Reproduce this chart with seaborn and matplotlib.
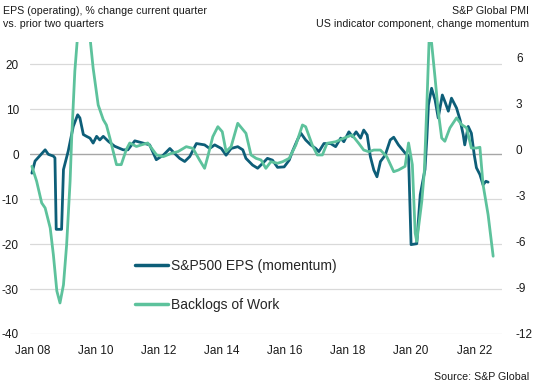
import matplotlib
matplotlib.use("Agg")
import matplotlib.pyplot as plt
import seaborn as sns
import pandas as pd
from matplotlib.lines import Line2D

# ---- data (dates as decimal years) ----
eps_t = [2007.99, 2008.09, 2008.41, 2008.51, 2008.67, 2008.72, 2008.76, 2008.93, 2008.99, 2009.14,
         2009.30, 2009.44, 2009.51, 2009.62, 2009.72, 2009.83, 2009.93, 2010.04, 2010.14, 2010.25,
         2010.41, 2010.61, 2010.88, 2011.03, 2011.25, 2011.51, 2011.72, 2011.93, 2012.15, 2012.36,
         2012.51, 2012.67, 2012.83, 2012.99, 2013.20, 2013.46, 2013.62, 2013.78, 2013.99, 2014.14,
         2014.30, 2014.51, 2014.67, 2014.77, 2014.98, 2015.14, 2015.30, 2015.45, 2015.61, 2015.77,
         2015.98, 2016.14, 2016.24, 2016.40, 2016.51, 2016.66, 2016.82, 2016.98, 2017.08, 2017.24,
         2017.45, 2017.61, 2017.77, 2017.87, 2018.03, 2018.15, 2018.26, 2018.40, 2018.50, 2018.61,
         2018.71, 2018.82, 2018.92, 2019.03, 2019.18, 2019.34, 2019.45, 2019.60, 2019.81, 2019.92,
         2020.00, 2020.18, 2020.29, 2020.44, 2020.50, 2020.55, 2020.65, 2020.76, 2020.86, 2020.99,
         2021.09, 2021.18, 2021.28, 2021.44, 2021.55, 2021.65, 2021.70, 2021.81, 2021.91, 2022.00,
         2022.07, 2022.18, 2022.28, 2022.37, 2022.44]
eps_v = [-4.2, -1.5, 1.0, 0.0, -0.4, -0.8, -16.7, -16.7, -3.4, 0.7,
         6.2, 8.8, 8.1, 4.4, 4.0, 3.6, 2.5, 4.0, 3.2, 4.0,
         2.9, 1.8, 1.0, 1.0, 3.0, 2.5, 2.1, -1.2, -0.2, 1.3,
         0.2, -0.9, -1.6, -0.5, 2.4, 2.1, 1.3, 2.1, 1.3, -0.2,
         1.3, 1.7, 1.0, -0.9, -2.4, -3.1, -2.0, -0.9, -1.3, -2.9,
         -2.8, -1.3, 0.6, 3.2, 4.7, 3.2, 2.1, 1.3, 0.6, 2.4,
         2.4, 1.7, 3.6, 2.8, 5.0, 3.9, 5.0, 3.6, 5.4, 4.3,
         -0.5, -3.5, -5.0, -1.6, -0.2, 3.2, 3.8, 2.1, 0.3, -0.4,
         -20.1, -19.9, -9.0, -3.4, 3.6, 11.0, 14.7, 12.1, 8.1, 13.2,
         11.4, 9.6, 12.5, 10.3, 7.7, 4.4, 2.1, 6.2, 4.7, -0.1,
         -3.0, -4.5, -6.8, -6.0, -6.2]

bl_t = [2007.99, 2008.14, 2008.30, 2008.41, 2008.57, 2008.67, 2008.78, 2008.88, 2008.99, 2009.09,
        2009.20, 2009.25, 2009.35, 2009.46, 2009.55, 2009.71, 2009.83, 2009.93, 2010.09, 2010.25,
        2010.35, 2010.46, 2010.67, 2010.82, 2010.98, 2011.09, 2011.30, 2011.45, 2011.66, 2011.94,
        2012.15, 2012.41, 2012.62, 2012.88, 2013.09, 2013.30, 2013.46, 2013.56, 2013.72, 2013.88,
        2014.02, 2014.14, 2014.30, 2014.51, 2014.77, 2014.93, 2015.09, 2015.25, 2015.40, 2015.56,
        2015.77, 2015.93, 2016.14, 2016.35, 2016.56, 2016.66, 2016.87, 2017.03, 2017.19, 2017.34,
        2017.61, 2017.87, 2018.13, 2018.34, 2018.50, 2018.66, 2018.82, 2019.03, 2019.23, 2019.45,
        2019.60, 2019.81, 2019.92, 2020.04, 2020.13, 2020.18, 2020.34, 2020.42, 2020.50, 2020.57,
        2020.65, 2020.76, 2020.86, 2020.97, 2021.07, 2021.23, 2021.44, 2021.60, 2021.76, 2021.91,
        2022.07, 2022.18, 2022.28, 2022.44, 2022.60]
bl_v = [-1.09, -2.06, -3.47, -3.8, -5.1, -6.84, -9.2, -9.98, -8.8, -6.2,
        -2.06, 0.75, 5.1, 8.0, 9.0, 8.6, 7.3, 5.3, 2.9, 1.95,
        1.6, 0.75, -0.98, -0.98, 0.0, 0.43, 0.2, 0.3, 0.43, -0.35,
        -0.46, -0.24, -0.13, 0.19, 0.08, -0.68, -1.22, -0.46, 0.84, 1.49,
        1.16, -0.13, 0.19, 1.71, 1.06, -0.35, -0.57, -0.68, -1.22, -0.79,
        -0.89, -0.79, -0.57, 0.30, 1.6, 1.49, 0.30, -0.35, -0.35, 0.41,
        0.51, 0.74, 0.95, 0.41, -0.03, -0.14, -0.03, -0.03, -0.46, -1.44,
        -1.33, -1.09, 0.43, -0.98, -5.43, -5.97, -3.36, -1.41, 2.92, 7.05,
        6.94, 4.66, 2.49, 0.75, 0.54, 1.41, 2.06, 1.62, 1.41, 0.10,
        0.10, 0.15, -2.28, -4.24, -6.94]

x_ticks = [2008, 2010, 2012, 2014, 2016, 2018, 2020, 2022]
x_labels = ["Jan 08", "Jan 10", "Jan 12", "Jan 14", "Jan 16", "Jan 18", "Jan 20", "Jan 22"]
left_ticks = [-40, -30, -20, -10, 0, 10, 20]
right_ticks = [-12, -9, -6, -3, 0, 3, 6]

eps_label = "S&P500 EPS (momentum)"
bl_label = "Backlogs of Work"

DARK = "#0d5e78"
GREEN = "#5dc29c"

sns.set_theme(style="white")
plt.rcParams['font.family'] = ['Liberation Sans', 'DejaVu Sans']

fig = plt.figure(figsize=(5.36, 3.90), dpi=100)
ax = fig.add_axes([30 / 536, 1 - 334 / 390, (502 - 30) / 536, (334 - 42) / 390])
ax2 = ax.twinx()

df_eps = pd.DataFrame({"t": eps_t, "v": eps_v})
df_bl = pd.DataFrame({"t": bl_t, "v": bl_v})

for y in left_ticks:
    ax.axhline(y, color="#a6a6a6" if y == 0 else "#d9d9d9", lw=1.0 if y == 0 else 0.9, zorder=0)

sns.lineplot(data=df_eps, x="t", y="v", ax=ax, color=DARK, lw=2.0, legend=False)
sns.lineplot(data=df_bl, x="t", y="v", ax=ax2, color=GREEN, lw=2.0, legend=False)

ax.set_xlim(2007.93, 2022.88)
ax.set_ylim(-40, 25)
ax2.set_ylim(-12, 7)
ax.set_xticks(x_ticks)
ax.set_xticklabels(x_labels)
ax.set_yticks(left_ticks)
ax.set_yticklabels([str(v) for v in left_ticks])
ax2.set_yticks(right_ticks)
ax2.set_yticklabels([str(v) for v in right_ticks])

for a in (ax, ax2):
    a.set_xlabel("")
    a.set_ylabel("")
    for s in a.spines.values():
        s.set_visible(False)
    a.grid(False)
ax.tick_params(axis="both", length=0, labelsize=8.5, colors="#1a1a1a")
ax.tick_params(axis="y", pad=8)
ax.tick_params(axis="x", pad=8)
ax2.tick_params(axis="y", length=0, labelsize=8.5, colors="#1a1a1a", pad=10)

handles = [Line2D([], [], color=DARK, lw=2.5), Line2D([], [], color=GREEN, lw=2.5)]
ax.legend(handles, [eps_label, bl_label], loc="upper left",
          bbox_to_anchor=(0.222, 0.258), frameon=False, fontsize=10,
          handlelength=2.4, handletextpad=0.2, labelspacing=1.85,
          borderaxespad=0, borderpad=0)

fig.text(3 / 536, 1 - 6 / 390, "EPS (operating), % change current quarter\nvs. prior two quarters",
         ha="left", va="top", fontsize=7.7, color="#1a1a1a", linespacing=1.35)
fig.text(529 / 536, 1 - 6 / 390, "S&P Global PMI\nUS indicator component, change momentum",
         ha="right", va="top", fontsize=7.7, color="#1a1a1a", linespacing=1.35, ma="right")
fig.text(529 / 536, 1 - 377 / 390, "Source: S&P Global", ha="right", va="center",
         fontsize=7.7, color="#1a1a1a")

fig.savefig("out.png", dpi=100)
